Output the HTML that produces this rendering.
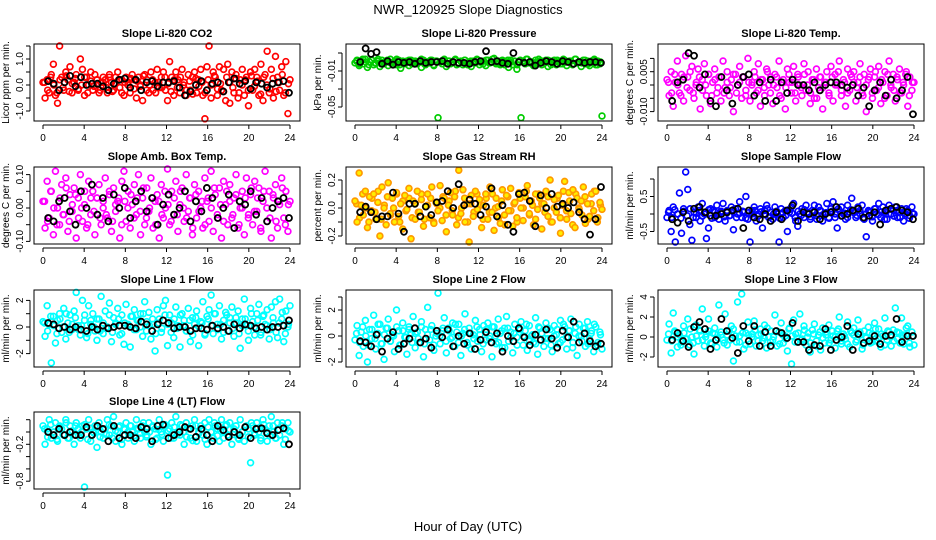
<!DOCTYPE html>
<html><head><meta charset="utf-8">
<style>
html,body{margin:0;padding:0;background:#fff;}
svg{display:block;font-family:"Liberation Sans",Arial,sans-serif;}
</style></head>
<body>
<svg id="chart" width="936" height="540" viewBox="0 0 936 540" xmlns="http://www.w3.org/2000/svg">
<rect width="936" height="540" fill="#fff"/>
<text x="468" y="14" text-anchor="middle" font-size="13">NWR_120925  Slope Diagnostics</text>
<text x="468" y="531" text-anchor="middle" font-size="13">Hour of Day (UTC)</text>
<g id="panels"></g>
</svg>
<script>
const hourTicks = [0,4,8,12,16,20,24];

const co2Color = [0.1,-0.5,0.2,-0.3,0.4,0.8,-0.4,-0.7,1.5,0.3,-0.2,0.5,0.2,0.7,-0.3,0.1,0.4,-0.2,1.0,0.6,-0.4,0.3,0.0,0.5,-0.2,0.4,0.2,-0.3,0.1,0.3,0.2,-0.3,0.4,0.1,-0.2,0.3,0.5,-0.1,0.2,-0.4,0.3,0.1,-0.3,0.4,0.2,-0.5,0.3,0.0,-0.6,0.4,0.2,-0.3,0.5,-0.2,0.1,0.6,-0.1,0.3,0.5,-0.2,-0.6,0.9,0.3,-0.4,0.5,0.2,-0.3,0.6,0.1,-0.4,0.4,-0.2,0.3,0.5,-0.3,0.2,0.6,-0.4,-1.3,0.7,1.6,-0.5,0.5,0.3,-0.4,0.7,-0.2,0.6,-0.6,0.8,-0.7,0.5,-0.3,0.4,-0.5,0.2,0.6,-0.4,0.3,-0.8,0.5,-0.2,0.6,0.3,-0.4,0.8,-0.6,0.4,1.3,-0.3,0.6,-0.5,1.1,0.3,-0.2,0.7,-0.4,0.9,-1.1,0.2];
const co2Core = [0.1,-0.2,0.3,0.0,-0.3,0.2,-0.1,0.35,-0.25,0.05,0.25,-0.15,0.0,0.3,-0.3,0.15,-0.05,0.2,-0.2,0.1,-0.1,0.3,-0.25,0.05,0.2,-0.3,0.1,0.0,0.25,-0.15,0.15,-0.05,0.35,-0.2,0.0,0.2,-0.3,0.1,-0.1,0.3,0.05,-0.25,0.2,-0.1,0.3,0.0,-0.2,0.15,-0.35,0.25,-0.05,0.1,-0.3,0.2,0.0,0.35,-0.15,0.05,-0.25,0.3,0.1,-0.1,0.25,-0.3,0.0,0.2,-0.2,0.35,-0.05,0.15,-0.35,0.3,0.0,-0.15,0.25,-0.25,0.1,0.4,-0.3,0.05];
const co2Black = [0.15,0.05,-0.2,0.1,0.35,-0.05,0.3,0.0,0.05,0.05,-0.05,-0.2,0.05,0.2,0.25,-0.1,0.2,-0.2,0.1,0.15,-0.05,0.1,0.1,0.15,-0.1,-0.4,-0.25,0.0,0.15,-0.2,0.05,0.1,-0.25,0.1,0.25,0.05,0.15,-0.15,0.1,0.05,-0.1,0.05,0.1,0.15,-0.3];
const co2Ticks = [-1,-0.5,0,0.5,1,1.5];
const co2Labels = ["-1.0","","0.0","","1.0",""];

const presColor = [-0.001,0.002,-0.004,0.001,-0.002,0.003,-0.006,0.0,0.002,-0.003,-0.001,0.001,-0.005,0.002,-0.002,0.0,-0.004,0.003,-0.001,0.001,-0.003,0.002,-0.007,0.0,-0.002,0.001,-0.004,0.002,-0.001,0.0,-0.002,0.001,-0.006,0.002,-0.003,0.0,-0.001,0.002,-0.004,0.001,-0.062,0.0,-0.002,0.003,-0.005,0.001,-0.002,0.0,0.002,-0.003,-0.001,0.001,-0.003,0.002,-0.002,0.0,-0.005,0.001,-0.001,0.002,-0.003,0.0,0.001,-0.004,0.002,-0.001,0.0,0.004,-0.002,0.001,-0.003,0.002,-0.001,0.0,-0.006,0.002,-0.003,0.001,-0.008,0.0,-0.062,0.001,-0.002,0.003,-0.001,0.0,-0.004,0.002,-0.002,0.001,-0.003,0.0,0.002,-0.005,0.001,-0.001,0.002,-0.003,0.0,0.001,-0.002,0.002,-0.004,0.0,0.001,-0.002,0.003,-0.001,0.0,-0.005,0.002,-0.002,0.001,-0.004,0.0,0.002,-0.003,0.001,-0.002,-0.060];
const presCore = [0.001,-0.002,0.003,0.0,-0.003,0.002,-0.001,0.003,-0.002,0.0,0.002,-0.001,0.0,0.003,-0.003,0.001,-0.001,0.002,-0.002,0.001,-0.001,0.003,-0.002,0.0,0.002,-0.003,0.001,0.0,0.002,-0.001,0.001,0.0,0.003,-0.002,0.0,0.002,-0.003,0.001,-0.001,0.003,0.0,-0.002,0.002,-0.001,0.003,0.0,-0.002,0.001,-0.003,0.002,0.0,0.001,-0.003,0.002,0.0,0.003,-0.001,0.0,-0.002,0.003,0.001,-0.001,0.002,-0.003,0.0,0.002,-0.002,0.003,0.0,0.001,-0.003,0.003,0.0,-0.001,0.002,-0.002,0.001,0.003,-0.003,0.0];
const presBlack = [0.0,0.015,0.009,0.011,-0.002,0.001,-0.003,0.0,-0.001,0.0,-0.002,0.001,-0.001,0.0,0.0,0.001,-0.002,0.0,-0.001,-0.001,-0.002,0.0,0.001,0.012,0.0,0.001,-0.001,-0.002,0.010,0.0,-0.001,0.0,-0.004,-0.001,0.001,0.0,-0.002,0.001,0.0,-0.002,0.0,-0.001,0.0,0.0,-0.001];
const presTicks = [0.01,-0.01,-0.03,-0.05];
const presLabels = ["","-0.01","","-0.05"];

const tempColor = [0.002,-0.004,0.005,-0.008,0.001,0.009,-0.003,0.004,-0.006,0.011,0.003,-0.002,0.007,-0.005,0.0,0.006,-0.009,0.002,0.008,-0.004,0.004,-0.007,0.001,0.006,-0.003,0.003,-0.006,0.009,-0.001,0.005,-0.004,0.002,-0.010,0.004,0.0,0.007,-0.005,0.003,-0.002,0.010,-0.006,0.001,0.005,-0.003,0.008,-0.008,0.002,-0.004,0.006,0.0,0.003,-0.007,0.004,-0.001,0.009,-0.005,0.002,-0.009,0.006,0.001,-0.003,0.007,-0.006,0.004,0.0,-0.004,0.008,-0.002,0.005,-0.007,0.002,-0.005,0.006,-0.001,0.003,-0.009,0.001,0.005,-0.003,0.007,-0.006,0.004,0.0,0.009,-0.004,0.002,-0.008,0.006,-0.002,0.003,0.005,-0.006,0.001,0.008,-0.003,0.004,-0.010,0.002,0.006,-0.005,0.003,-0.002,0.007,-0.007,0.001,0.005,-0.004,0.009,-0.001,0.004,-0.006,0.002,0.006,-0.003,0.0,0.004,-0.008,0.003,-0.002,0.001];
const tempCore = [0.001,-0.003,0.004,0.0,-0.004,0.003,-0.001,0.005,-0.003,0.001,0.003,-0.002,0.0,0.004,-0.004,0.002,-0.001,0.003,-0.003,0.001,-0.001,0.004,-0.003,0.001,0.003,-0.004,0.001,0.0,0.003,-0.002,0.002,-0.001,0.005,-0.003,0.0,0.003,-0.004,0.001,-0.001,0.004,0.001,-0.003,0.003,-0.001,0.004,0.0,-0.003,0.002,-0.005,0.003,-0.001,0.001,-0.004,0.003,0.0,0.005,-0.002,0.001,-0.003,0.004,0.001,-0.001,0.003,-0.004,0.0,0.003,-0.003,0.005,-0.001,0.002,-0.005,0.004,0.0,-0.002,0.003,-0.003,0.001,0.005,-0.004,0.001];
const tempBlack = [-0.006,0.001,0.002,0.012,0.011,-0.001,0.004,-0.006,-0.008,0.003,-0.002,-0.007,0.0,0.003,0.004,-0.004,0.001,-0.006,0.002,-0.006,0.001,-0.003,0.002,0.0,0.0,-0.002,0.001,-0.002,0.0,0.001,0.001,0.0,-0.001,0.0,-0.004,-0.001,-0.008,-0.002,0.001,-0.004,0.002,-0.005,-0.002,0.003,-0.011];
const tempTicks = [0.01,0.005,0,-0.005,-0.01];
const tempLabels = ["","0.005","","","-0.010"];

const ambColor = [0.02,-0.06,0.08,-0.03,0.05,-0.08,0.11,0.0,-0.05,0.07,-0.02,0.09,-0.07,0.04,-0.01,0.06,-0.09,0.03,0.10,-0.04,0.01,-0.06,0.08,-0.02,0.05,-0.08,0.03,0.07,-0.05,0.0,0.09,-0.03,0.04,-0.07,0.06,-0.01,0.02,-0.09,0.08,0.11,-0.04,0.05,-0.06,0.01,0.07,-0.02,0.10,-0.08,0.03,-0.05,0.06,-0.01,0.09,-0.06,0.02,0.04,-0.09,0.07,-0.03,0.0,0.12,-0.05,0.05,-0.02,0.08,-0.07,0.01,0.06,-0.04,0.10,-0.01,0.03,-0.08,0.07,-0.03,0.05,0.0,-0.06,0.09,0.02,-0.04,0.11,-0.07,0.04,-0.02,0.06,-0.09,0.08,0.01,-0.05,0.07,-0.03,0.03,0.10,-0.06,0.0,0.05,-0.08,0.09,-0.02,0.04,-0.05,0.08,-0.01,0.06,-0.07,0.02,0.11,-0.04,0.05,-0.09,0.03,0.07,-0.06,0.01,0.09,-0.03,0.05,-0.07,0.02];
const ambCore = [0.02,-0.04,0.05,0.0,-0.05,0.03,-0.02,0.06,-0.04,0.01,0.04,-0.03,0.0,0.05,-0.05,0.03,-0.01,0.03,-0.03,0.02,-0.02,0.05,-0.04,0.01,0.03,-0.05,0.02,0.0,0.04,-0.03,0.03,-0.01,0.06,-0.03,0.0,0.03,-0.05,0.02,-0.02,0.05,0.01,-0.04,0.03,-0.02,0.05,0.0,-0.03,0.03,-0.06,0.04,-0.01,0.02,-0.05,0.03,0.0,0.06,-0.03,0.01,-0.04,0.05,0.02,-0.02,0.04,-0.05,0.0,0.03,-0.03,0.06,-0.01,0.03,-0.06,0.05,0.0,-0.03,0.04,-0.04,0.02,0.06,-0.05,0.01];
const ambBlack = [-0.03,-0.04,0.02,0.03,-0.01,-0.05,0.05,0.0,0.07,-0.02,0.03,-0.04,0.04,0.0,0.06,-0.03,0.02,0.05,-0.01,0.03,-0.05,0.01,0.04,-0.02,0.0,0.05,-0.04,0.02,-0.01,0.06,0.03,-0.03,0.0,0.04,-0.06,0.02,0.01,0.05,-0.02,0.03,-0.04,0.0,0.02,0.03,-0.03];
const ambTicks = [0.1,0.05,0,-0.05,-0.1];
const ambLabels = ["0.10","","0.00","","-0.10"];

const rhColor = [0.05,-0.10,0.25,0.02,-0.05,0.12,-0.14,0.08,-0.02,0.10,-0.08,0.04,-0.20,0.15,0.0,-0.12,0.18,-0.04,0.07,-0.10,0.11,-0.06,0.03,-0.15,0.09,-0.01,0.14,-0.22,0.05,-0.08,0.12,-0.03,0.06,-0.13,0.01,0.10,-0.07,0.15,-0.11,0.04,-0.02,0.16,-0.09,0.07,-0.17,0.02,0.11,-0.05,0.08,-0.12,0.27,-0.04,0.13,-0.10,0.03,-0.30,0.09,-0.06,0.12,-0.01,0.06,-0.14,0.02,0.10,-0.08,0.15,-0.03,-0.16,0.07,0.01,-0.11,0.13,-0.05,0.09,-0.02,0.14,-0.13,0.04,-0.07,0.11,0.0,-0.09,0.08,0.16,-0.04,0.05,-0.12,0.10,-0.01,0.07,-0.15,0.03,0.12,-0.06,0.20,-0.10,0.06,-0.03,0.09,-0.18,0.02,0.19,-0.08,0.11,-0.04,0.13,-0.14,0.07,-0.01,0.05,0.15,-0.11,0.03,-0.06,0.10,-0.02,0.12,-0.07,0.04,-0.01];
const rhCore = [0.03,-0.07,0.1,0.0,-0.1,0.07,-0.03,0.12,-0.08,0.02,0.08,-0.05,0.0,0.1,-0.1,0.05,-0.02,0.07,-0.07,0.03,-0.03,0.1,-0.08,0.02,0.07,-0.1,0.03,0.0,0.08,-0.05,0.05,-0.02,0.12,-0.07,0.0,0.07,-0.1,0.03,-0.03,0.1,0.02,-0.08,0.07,-0.03,0.1,0.0,-0.07,0.05,-0.12,0.08,-0.02,0.03,-0.1,0.07,0.0,0.12,-0.05,0.02,-0.08,0.1,0.03,-0.03,0.08,-0.1,0.0,0.07,-0.07,0.12,-0.02,0.05,-0.12,0.1,0.0,-0.05,0.08,-0.08,0.03,0.12,-0.1,0.02];
const rhBlack = [-0.03,0.01,-0.03,-0.08,-0.06,-0.06,0.11,-0.04,-0.17,0.03,0.03,-0.06,0.01,-0.05,0.04,0.05,0.12,0.0,0.17,0.02,0.06,0.03,-0.05,0.01,0.14,-0.06,0.02,-0.12,-0.17,0.10,0.11,0.05,-0.13,0.09,0.0,0.10,0.01,0.03,0.0,0.04,-0.03,-0.08,-0.19,-0.08,0.15];
const rhTicks = [0.2,0.1,0,-0.1,-0.2];
const rhLabels = ["0.2","","0.0","","-0.2"];

const sfColor = [-0.1,0.1,-0.5,0.2,-0.8,0.0,0.6,-0.55,0.15,1.2,0.7,-0.3,-0.75,0.05,-0.1,0.2,-0.2,0.3,0.0,-0.7,-0.4,0.15,0.1,-0.1,0.25,-0.15,0.05,0.3,-0.2,0.1,-0.05,0.2,-0.45,0.15,0.0,0.35,-0.1,0.05,0.5,-0.15,-0.85,0.1,0.2,-0.2,0.0,0.15,-0.4,0.1,0.25,-0.1,0.05,-0.15,0.2,0.0,-0.8,0.15,-0.1,0.1,-0.5,0.05,0.2,0.3,-0.2,-0.35,0.0,0.15,-0.1,0.25,0.05,-0.15,0.1,0.25,-0.05,0.2,0.1,-0.2,0.0,0.3,-0.1,0.15,0.35,-0.1,-0.4,0.1,0.2,0.0,-0.15,0.25,0.05,0.45,0.1,-0.1,0.2,0.0,0.25,-0.15,-0.65,0.1,0.05,-0.2,0.15,0.0,0.3,-0.1,0.2,0.05,-0.15,0.25,0.0,0.1,0.2,-0.1,0.05,0.15,-0.2,0.0,0.1,-0.05,0.2,0.0];
const sfCore = [0.05,-0.1,0.12,0.0,-0.12,0.08,-0.05,0.15,-0.1,0.02,0.1,-0.06,0.0,0.12,-0.12,0.06,-0.02,0.08,-0.08,0.04,-0.04,0.12,-0.1,0.02,0.08,-0.12,0.04,0.0,0.1,-0.06,0.06,-0.02,0.15,-0.08,0.0,0.08,-0.12,0.04,-0.04,0.12,0.02,-0.1,0.08,-0.04,0.12,0.0,-0.08,0.06,-0.15,0.1,-0.02,0.04,-0.12,0.08,0.0,0.15,-0.06,0.02,-0.1,0.12,0.04,-0.04,0.1,-0.12,0.0,0.08,-0.08,0.15,-0.02,0.06,-0.15,0.12,0.0,-0.06,0.1,-0.1,0.04,0.15,-0.12,0.02];
const sfBlack = [-0.15,-0.25,0.05,-0.2,0.15,0.2,0.05,-0.05,-0.05,0.0,0.05,0.1,0.15,-0.4,0.1,-0.1,-0.15,0.0,-0.2,0.05,-0.15,0.1,0.25,-0.2,0.05,0.0,0.05,-0.15,0.0,0.05,0.2,-0.05,0.0,0.1,0.15,-0.1,-0.05,0.05,-0.3,0.1,0.15,0.2,0.1,0.05,-0.15];
const sfTicks = [1,0.5,0,-0.5];
const sfLabels = ["","0.5","","-0.5"];

const l1Color = [0.4,-0.7,1.6,0.2,-2.7,0.8,-1.2,0.5,1.0,-0.4,1.4,-0.9,0.3,0.9,-0.2,1.2,2.6,0.1,-0.6,2.0,0.5,-0.8,1.6,0.2,1.0,-0.3,-1.0,0.6,2.3,-0.5,1.2,0.0,1.8,-1.1,0.7,0.3,1.4,-0.6,0.9,-1.3,1.7,0.2,-1.5,0.8,1.3,-0.2,0.5,1.0,-0.7,1.9,0.4,1.1,-0.9,0.2,-1.8,1.3,0.6,-0.4,1.6,2.0,-1.4,0.9,0.3,-0.8,1.5,0.1,-1.5,1.0,0.5,-0.3,1.4,-1.1,0.7,0.2,1.2,-1.4,0.4,1.9,-0.6,0.8,1.3,2.4,-0.5,1.0,0.2,1.6,-0.9,0.5,1.1,-0.3,0.7,1.5,-0.7,0.3,1.2,-1.6,0.6,2.1,0.1,-1.0,1.4,0.4,-0.6,1.0,1.7,-0.4,0.8,0.2,1.3,-0.9,1.5,0.3,1.9,-0.8,2.1,0.6,-1.1,1.2,0.0,1.6];
const l1Core = [0.3,-0.3,0.8,0.1,-0.5,0.6,0.0,1.0,-0.4,0.2,0.7,-0.2,0.1,0.9,-0.5,0.5,0.0,0.6,-0.3,0.3,-0.1,0.9,-0.4,0.2,0.6,-0.5,0.3,0.1,0.8,-0.2,0.5,0.0,1.0,-0.3,0.1,0.6,-0.5,0.3,-0.1,0.9,0.2,-0.4,0.6,-0.1,0.9,0.1,-0.3,0.5,-0.6,0.7,0.0,0.3,-0.5,0.6,0.1,1.0,-0.2,0.2,-0.4,0.9,0.3,-0.1,0.7,-0.5,0.1,0.6,-0.3,1.0,0.0,0.5,-0.6,0.9,0.1,-0.2,0.7,-0.4,0.3,1.1,-0.5,0.2];
const l1Black = [0.3,0.2,-0.1,0.0,-0.2,0.0,-0.2,-0.3,0.0,-0.2,0.1,-0.1,0.0,0.1,0.1,0.0,-0.1,0.4,0.2,-0.3,0.2,0.5,0.3,-0.1,0.0,0.0,-0.3,-0.1,-0.1,-0.2,0.1,-0.1,0.0,-0.3,0.2,-0.1,0.2,0.1,-0.1,0.0,-0.2,0.0,0.0,0.1,0.5];
const l1Ticks = [2,1,0,-1,-2];
const l1Labels = ["2","","0","","-2"];

const l2Color = [-0.3,0.8,-1.5,0.3,-0.8,1.2,-2.0,0.5,-0.2,1.6,-1.0,0.2,0.9,-0.6,-1.8,0.6,1.3,-0.4,0.1,-1.2,2.0,0.4,-0.7,1.0,-0.1,-1.4,0.7,0.2,1.5,-0.9,0.3,-0.5,1.1,-1.6,0.5,2.2,-0.3,0.8,-1.1,0.0,3.3,-0.6,0.4,1.4,-1.3,0.6,-0.2,1.0,-0.8,0.3,0.9,-1.5,0.2,1.7,-0.5,0.6,-1.0,0.1,1.2,-0.4,0.5,-1.2,0.8,-0.3,1.0,0.0,-1.6,0.7,-0.6,1.3,0.2,-0.9,0.6,1.5,-0.4,0.3,-1.3,0.9,-0.1,0.5,1.1,-0.7,0.4,-1.1,0.8,0.0,-0.5,1.4,-1.4,0.6,0.2,-0.8,1.0,-0.2,0.5,-1.2,0.8,0.1,-0.6,1.2,-0.3,0.7,-1.0,0.4,1.3,-0.5,0.2,-1.5,0.9,0.0,0.6,-0.8,1.1,-0.2,0.4,-1.2,0.7,-0.5,0.3,-1.0];
const l2Core = [0.2,-0.5,0.7,0.0,-0.7,0.5,-0.2,0.9,-0.6,0.1,0.6,-0.4,0.0,0.7,-0.7,0.4,-0.1,0.5,-0.5,0.2,-0.2,0.7,-0.6,0.1,0.5,-0.7,0.2,0.0,0.6,-0.4,0.4,-0.1,0.9,-0.5,0.0,0.5,-0.7,0.2,-0.2,0.7,0.1,-0.6,0.5,-0.2,0.7,0.0,-0.5,0.4,-0.9,0.6,-0.1,0.2,-0.7,0.5,0.0,0.9,-0.4,0.1,-0.6,0.7,0.2,-0.2,0.6,-0.7,0.0,0.5,-0.5,0.9,-0.1,0.4,-0.9,0.7,0.0,-0.4,0.6,-0.6,0.2,0.9,-0.7,0.1];
const l2Black = [-0.4,-0.5,-0.8,0.1,-1.2,-0.2,0.3,-1.0,-0.6,-0.2,0.6,-0.5,-0.2,-0.9,0.4,-0.1,0.5,-0.8,0.0,-0.6,0.2,-1.0,-0.3,0.3,-0.5,0.2,-1.2,0.0,-0.4,0.6,-0.1,-0.7,0.1,-0.3,0.5,-0.2,-0.9,0.4,-0.1,1.1,-0.5,0.2,-0.4,-0.8,-0.6];
const l2Ticks = [3,2,1,0,-1,-2];
const l2Labels = ["","2","","0","","-2"];

const l3Color = [-0.3,1.3,-1.6,2.4,0.5,-1.0,0.2,-0.5,1.1,-0.2,1.8,-0.8,0.0,-1.7,1.2,-0.4,0.6,2.8,-0.9,0.3,1.8,-0.6,0.4,0.9,-1.0,3.2,0.2,-0.3,2.3,-0.8,0.6,1.1,-2.4,0.1,3.5,-0.5,4.3,-1.2,0.4,1.5,-0.7,0.3,1.6,-0.9,0.2,0.8,-0.4,1.2,-1.1,0.0,0.6,-0.3,2.2,-0.9,0.5,1.4,-0.6,0.1,-1.4,0.9,-2.7,1.7,0.3,-0.5,2.3,-0.2,1.1,-0.8,0.4,-1.5,0.7,1.3,-0.4,0.2,-1.3,0.9,-0.6,0.5,1.2,-0.3,0.1,-1.1,0.6,2.0,-0.7,0.3,-0.2,1.5,-1.0,0.4,0.9,-0.5,1.7,0.2,-1.2,0.6,-0.1,1.0,-0.6,0.3,1.4,-0.4,0.8,-1.0,0.1,1.9,-0.3,0.5,-0.9,0.7,2.9,-0.2,0.4,1.9,-0.7,0.2,1.1,-1.0,0.5,-0.8];
const l3Core = [0.3,-0.4,0.6,0.0,-0.8,0.4,-0.2,0.8,-0.6,0.1,0.7,-0.3,0.0,0.6,-0.7,0.3,-0.1,0.5,-0.6,0.2,-0.3,0.8,-0.5,0.1,0.4,-0.8,0.2,0.0,0.7,-0.4,0.3,-0.1,0.9,-0.5,0.0,0.6,-0.7,0.2,-0.2,0.8,0.1,-0.5,0.4,-0.3,0.7,0.0,-0.6,0.3,-0.9,0.5,-0.1,0.2,-0.6,0.6,0.0,0.8,-0.4,0.1,-0.7,0.6,0.2,-0.3,0.5,-0.8,0.0,0.4,-0.5,0.8,-0.1,0.3,-0.8,0.6,0.0,-0.4,0.5,-0.6,0.2,0.9,-0.6,0.1];
const l3Black = [-0.3,0.4,-0.4,-1.0,1.0,1.5,0.8,-1.2,-0.3,1.8,0.6,-0.1,-1.6,1.1,-0.4,1.1,-0.9,0.5,-0.9,0.6,0.4,-0.1,1.4,-0.5,-0.5,-1.3,-0.8,-0.9,0.8,-1.3,-0.3,0.0,1.1,-1.3,0.3,-0.6,-0.4,0.1,-0.7,0.1,0.2,1.8,-0.5,0.1,0.1];
const l3Ticks = [4,2,0,-2];
const l3Labels = ["4","2","0","-2"];

const l4Color = [0.1,-0.2,0.05,0.2,-0.1,0.0,0.15,-0.15,0.1,0.05,-0.05,0.2,-0.1,0.1,0.0,-0.2,0.15,0.05,-0.1,0.1,-0.9,0.05,0.2,-0.15,0.0,0.1,-0.25,0.15,0.0,-0.1,0.05,0.2,-0.05,0.1,0.25,-0.15,0.0,0.1,-0.2,0.05,0.15,-0.1,0.1,0.0,-0.15,0.2,0.05,-0.1,0.1,0.0,-0.05,0.15,-0.2,0.1,0.05,-0.1,0.2,0.0,-0.15,0.1,-0.7,0.05,0.15,-0.1,0.25,0.0,-0.05,0.1,-0.2,0.15,0.05,-0.1,0.1,0.2,-0.15,0.0,0.1,-0.05,0.15,-0.2,0.2,0.0,-0.1,0.1,0.05,-0.15,0.2,0.0,0.1,-0.05,0.15,-0.2,0.05,0.1,-0.1,0.2,0.0,-0.15,0.1,0.05,-0.5,0.1,-0.05,0.15,0.0,-0.1,0.2,0.05,-0.15,0.1,0.25,0.0,-0.1,0.15,-0.05,0.1,-0.2,0.05,0.15,0.0];
const l4Core = [0.05,-0.08,0.12,0.0,-0.12,0.08,-0.04,0.15,-0.1,0.02,0.1,-0.06,0.0,0.12,-0.12,0.06,-0.02,0.08,-0.08,0.04,-0.04,0.12,-0.1,0.02,0.08,-0.12,0.04,0.0,0.1,-0.06,0.06,-0.02,0.15,-0.08,0.0,0.08,-0.12,0.04,-0.04,0.12,0.02,-0.1,0.08,-0.04,0.12,0.0,-0.08,0.06,-0.14,0.1,-0.02,0.04,-0.12,0.08,0.0,0.15,-0.06,0.02,-0.1,0.12,0.04,-0.04,0.1,-0.12,0.0,0.08,-0.08,0.15,-0.02,0.06,-0.14,0.12,0.0,-0.06,0.1,-0.1,0.04,0.15,-0.12,0.02];
const l4Black = [0.0,-0.05,0.05,-0.05,0.0,-0.05,-0.05,0.08,-0.05,0.1,0.05,-0.15,0.1,-0.1,-0.05,-0.05,-0.1,0.08,0.05,-0.15,0.1,0.12,-0.1,-0.05,0.0,0.08,0.05,-0.08,0.05,-0.05,-0.15,0.1,0.03,-0.08,0.0,-0.05,0.08,-0.1,0.05,0.06,-0.02,-0.05,0.03,0.06,-0.2];
const l4Ticks = [0.2,0,-0.2,-0.4,-0.6,-0.8];
const l4Labels = ["","","-0.2","","","-0.8"];

const NS = "http://www.w3.org/2000/svg";
const root = document.getElementById('panels');
const colLeft = [34,346,658], rowTop = [44,167,290,412], boxW = 266, boxH = 77;

function mk(tag, attrs, parent){
  const e = document.createElementNS(NS, tag);
  for (const k in attrs) e.setAttribute(k, attrs[k]);
  parent.appendChild(e);
  return e;
}

const panels = [
  {key:'co2', title:'Slope Li-820 CO2', ylab:'Licor ppm per min.', col:0,row:0, v0:0, p0:85, ppu:26, color:co2Color, core:co2Core, black:co2Black, ticks:co2Ticks, labels:co2Labels, stroke:'#ff0000', fill:'none'},
  {key:'pressure', title:'Slope Li-820 Pressure', ylab:'kPa per min.', col:1,row:0, v0:-0.01, p0:71, ppu:900, color:presColor, core:presCore, black:presBlack, ticks:presTicks, labels:presLabels, stroke:'#00cc00', fill:'none'},
  {key:'temp', title:'Slope Li-820 Temp.', ylab:'degrees C per min.', col:2,row:0, v0:0, p0:85, ppu:2660, color:tempColor, core:tempCore, black:tempBlack, ticks:tempTicks, labels:tempLabels, stroke:'#ff00ff', fill:'none'},
  {key:'amb', title:'Slope Amb. Box Temp.', ylab:'degrees C per min.', col:0,row:1, v0:0, p0:208, ppu:334, color:ambColor, core:ambCore, black:ambBlack, ticks:ambTicks, labels:ambLabels, stroke:'#ff00ff', fill:'none'},
  {key:'rh', title:'Slope Gas Stream RH', ylab:'percent per min.', col:1,row:1, v0:0, p0:208, ppu:140, color:rhColor, core:rhCore, black:rhBlack, ticks:rhTicks, labels:rhLabels, stroke:'#ff9900', fill:'#ffee00'},
  {key:'sample', title:'Slope Sample Flow', ylab:'ml/min per min.', col:2,row:1, v0:0, p0:214, ppu:35, color:sfColor, core:sfCore, black:sfBlack, ticks:sfTicks, labels:sfLabels, stroke:'#0000ff', fill:'none'},
  {key:'line1', title:'Slope Line 1 Flow', ylab:'ml/min per min.', col:0,row:2, v0:0, p0:327, ppu:13.3, color:l1Color, core:l1Core, black:l1Black, ticks:l1Ticks, labels:l1Labels, stroke:'#00ffff', fill:'none'},
  {key:'line2', title:'Slope Line 2 Flow', ylab:'ml/min per min.', col:1,row:2, v0:0, p0:336, ppu:13, color:l2Color, core:l2Core, black:l2Black, ticks:l2Ticks, labels:l2Labels, stroke:'#00ffff', fill:'none'},
  {key:'line3', title:'Slope Line 3 Flow', ylab:'ml/min per min.', col:2,row:2, v0:0, p0:337, ppu:10, color:l3Color, core:l3Core, black:l3Black, ticks:l3Ticks, labels:l3Labels, stroke:'#00ffff', fill:'none'},
  {key:'line4', title:'Slope Line 4 (LT) Flow', ylab:'ml/min per min.', col:0,row:3, v0:0, p0:432, ppu:61.5, color:l4Color, core:l4Core, black:l4Black, ticks:l4Ticks, labels:l4Labels, stroke:'#00ffff', fill:'none'}
];

panels.forEach(p => {
  const L = colLeft[p.col], T = rowTop[p.row], B = T + boxH, R = L + boxW;
  const xs = h => L + 9 + h * (247/24);
  const ys = v => p.p0 - (v - p.v0) * p.ppu;
  const clampY = y => Math.max(T + 2, Math.min(B - 2, y));
  const g = mk('g', {}, root);
  
  

  const t = mk('text', {x:(L+R)/2, y:T-7, 'text-anchor':'middle', 'font-size':11, 'font-weight':'bold'}, g);
  t.textContent = p.title;
  
  

  const yl = mk('text', {x:0, y:0, 'text-anchor':'middle', 'font-size':10, transform:`translate(${L-25},${(T+B)/2}) rotate(-90)`}, g);
  yl.textContent = p.ylab;
  
  

  const pts = mk('g', {}, g);
  
  
  const nc = p.core.length;
  p.core.forEach((v, i) => {
    const c = mk('circle', {cx: xs(0.15 + i*23.7/(nc-1)), cy: clampY(ys(v)), r: 2.9, fill: p.fill, stroke: p.stroke, 'stroke-width': 1.7}, pts);
    
    
  });
  const n = p.color.length;
  p.color.forEach((v, i) => {
    const c = mk('circle', {cx: xs(i*24/(n-1)), cy: clampY(ys(v)), r: 2.9, fill: p.fill, stroke: p.stroke, 'stroke-width': 1.7}, pts);
    
    
  });
  const nb = p.black.length;
  const bk = mk('g', {}, g);
  
  
  p.black.forEach((v, i) => {
    const c = mk('circle', {cx: xs(0.5 + i*23.4/(nb-1)), cy: clampY(ys(v)), r: 3, fill: 'none', stroke: '#000', 'stroke-width': 1.8}, bk);
    
    
  });

  const box = mk('rect', {x:L, y:T, width:boxW, height:boxH, fill:'none', stroke:'#000', 'stroke-width':1}, g);
  
  

  const ya = mk('g', {}, g);
  
  
  const yv = p.ticks.map(ys);
  mk('line', {x1:L-4, x2:L-4, y1:Math.min(...yv), y2:Math.max(...yv), stroke:'#000'}, ya);
  p.ticks.forEach((tv, i) => {
    const y = ys(tv);
    mk('line', {x1:L-4, x2:L-8, y1:y, y2:y, stroke:'#000'}, ya);
    if (p.labels[i]) {
      const tl = mk('text', {x:0, y:0, 'text-anchor':'middle', 'font-size':10, transform:`translate(${L-11},${y}) rotate(-90)`}, ya);
      tl.textContent = p.labels[i];
      
      
    }
  });

  const xa = mk('g', {}, g);
  
  
  mk('line', {x1:xs(0), x2:xs(24), y1:B+4, y2:B+4, stroke:'#000'}, xa);
  hourTicks.forEach(h => {
    mk('line', {x1:xs(h), x2:xs(h), y1:B+4, y2:B+8, stroke:'#000'}, xa);
    const tl = mk('text', {x:xs(h), y:B+20, 'text-anchor':'middle', 'font-size':10}, xa);
    tl.textContent = h;
    
    
  });
});
</script>
</body></html>
